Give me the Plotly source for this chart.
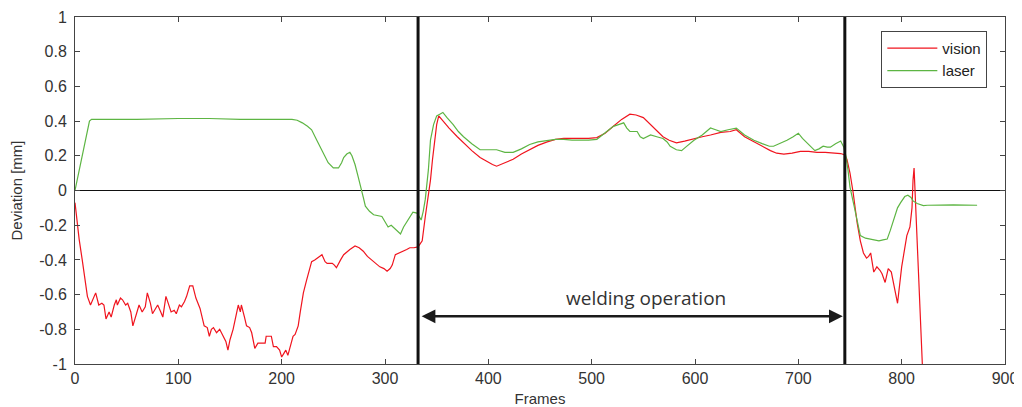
import plotly.graph_objects as go

# ---------------- data ----------------
vision_frames = [0, 2, 4, 7, 10, 12, 15, 18, 20, 23, 26, 28, 30, 33, 35, 38, 40, 41, 44, 46, 49, 51, 54, 56, 59,
                 62, 65, 68, 70, 73, 75, 78, 80, 83, 85, 88, 90, 93, 96, 98, 101, 103, 106, 108, 111, 114, 117,
                 121, 125, 128, 130, 132, 134, 137, 140, 143, 146, 148, 150, 153, 156, 158, 160, 161, 164, 166,
                 169, 171, 174, 177, 181, 184, 185, 188, 190, 192, 195, 198, 200, 202, 204, 206, 208, 211, 213,
                 216, 218, 221, 224, 226, 229, 232, 234, 237, 239, 242, 244, 247, 249, 251, 253, 257, 260, 266,
                 271, 275, 279, 283, 287, 291, 295, 299, 302, 305, 307, 310, 314, 318, 321, 324, 328, 332, 336,
                 339, 342, 344, 346, 348, 350, 352, 356, 362, 370, 376, 384, 392, 400, 404, 408, 412, 418, 424,
                 432, 440, 448, 457, 465, 473, 481, 489, 497, 505, 513, 521, 529, 537, 543, 550, 557, 563, 569,
                 575, 582, 590, 599, 607, 615, 625, 634, 640, 648, 657, 665, 673, 679, 686, 694, 702, 710, 718,
                 726, 734, 741, 745, 747, 750, 753, 757, 760, 763, 766, 768, 770, 773, 776, 779, 781, 784, 787,
                 790, 793, 796, 800, 803, 805, 808, 810, 811, 812, 820]
vision_values = [-0.07, -0.18, -0.28, -0.40, -0.52, -0.61, -0.66, -0.62, -0.59, -0.66, -0.65, -0.66, -0.74, -0.70,
                 -0.73, -0.66, -0.63, -0.66, -0.62, -0.63, -0.66, -0.65, -0.70, -0.78, -0.72, -0.66, -0.70, -0.67,
                 -0.59, -0.65, -0.71, -0.68, -0.66, -0.70, -0.73, -0.61, -0.65, -0.70, -0.69, -0.71, -0.66, -0.67,
                 -0.64, -0.61, -0.55, -0.55, -0.62, -0.68, -0.78, -0.79, -0.84, -0.80, -0.79, -0.82, -0.80, -0.84,
                 -0.87, -0.92, -0.86, -0.80, -0.72, -0.66, -0.70, -0.66, -0.73, -0.78, -0.79, -0.82, -0.91, -0.88,
                 -0.88, -0.88, -0.84, -0.84, -0.84, -0.90, -0.90, -0.92, -0.96, -0.94, -0.92, -0.95, -0.90, -0.84,
                 -0.83, -0.78, -0.70, -0.59, -0.52, -0.47, -0.41, -0.40, -0.39, -0.38, -0.37, -0.41, -0.42, -0.42,
                 -0.42, -0.43, -0.445, -0.40, -0.37, -0.34, -0.32, -0.33, -0.35, -0.38, -0.40, -0.42, -0.44, -0.45,
                 -0.465, -0.45, -0.43, -0.37, -0.36, -0.35, -0.34, -0.33, -0.33, -0.325, -0.29, -0.15, -0.02, 0.06,
                 0.18, 0.29, 0.38, 0.43, 0.40, 0.36, 0.31, 0.275, 0.23, 0.19, 0.16, 0.15, 0.14, 0.15, 0.165, 0.18,
                 0.21, 0.235, 0.26, 0.28, 0.295, 0.30, 0.30, 0.30, 0.30, 0.305, 0.33, 0.37, 0.41, 0.44, 0.435, 0.42,
                 0.38, 0.34, 0.31, 0.29, 0.275, 0.285, 0.30, 0.31, 0.32, 0.335, 0.34, 0.35, 0.31, 0.28, 0.255, 0.23,
                 0.215, 0.21, 0.215, 0.225, 0.225, 0.22, 0.22, 0.215, 0.213, 0.205, 0.18, 0.10, -0.01, -0.19, -0.29,
                 -0.36, -0.39, -0.38, -0.36, -0.47, -0.44, -0.46, -0.48, -0.53, -0.45, -0.47, -0.56, -0.65, -0.44,
                 -0.32, -0.26, -0.21, -0.10, 0.06, 0.13, -1.0]

laser_frames = [0, 5, 10, 14, 16, 30, 60, 100, 130, 160, 190, 210, 215, 220, 225, 229, 234, 240, 245, 250, 255,
                258, 260, 263, 266, 268, 271, 274, 276, 279, 281, 285, 289, 293, 297, 300, 303, 306, 308, 311,
                315, 318, 321, 324, 327, 331, 335, 337, 339, 342, 344, 347, 350, 353, 356, 360, 366, 371, 376,
                384, 392, 400, 408, 416, 424, 432, 440, 448, 457, 465, 473, 481, 489, 497, 505, 513, 521, 526,
                531, 534, 537, 544, 547, 550, 553, 557, 563, 569, 573, 576, 582, 587, 591, 599, 607, 615, 620,
                625, 632, 640, 648, 657, 665, 672, 676, 682, 689, 695, 700, 704, 708, 712, 716, 720, 724, 728,
                731, 736, 741, 744, 746, 748, 750, 754, 757, 760, 765, 770, 774, 778, 782, 786, 789, 792, 796,
                799, 803, 806, 809, 811, 815, 821, 825, 850, 873]
laser_values = [0.0, 0.14, 0.28, 0.40, 0.41, 0.41, 0.41, 0.415, 0.415, 0.41, 0.41, 0.41, 0.405, 0.39, 0.37, 0.35,
                0.29, 0.22, 0.16, 0.13, 0.13, 0.16, 0.19, 0.21, 0.22, 0.20, 0.15, 0.08, 0.025, -0.04, -0.09,
                -0.12, -0.14, -0.145, -0.15, -0.18, -0.21, -0.20, -0.21, -0.23, -0.25, -0.21, -0.18, -0.15,
                -0.125, -0.13, -0.17, -0.12, -0.05, 0.12, 0.29, 0.38, 0.43, 0.44, 0.45, 0.42, 0.38, 0.34, 0.31,
                0.27, 0.235, 0.235, 0.235, 0.22, 0.22, 0.24, 0.265, 0.28, 0.29, 0.295, 0.295, 0.29, 0.29, 0.29,
                0.295, 0.33, 0.37, 0.38, 0.39, 0.36, 0.34, 0.34, 0.31, 0.30, 0.31, 0.32, 0.31, 0.30, 0.28, 0.255,
                0.235, 0.23, 0.25, 0.29, 0.32, 0.36, 0.35, 0.34, 0.35, 0.36, 0.32, 0.29, 0.27, 0.255, 0.255, 0.27,
                0.29, 0.31, 0.33, 0.30, 0.275, 0.25, 0.23, 0.24, 0.255, 0.25, 0.25, 0.27, 0.285, 0.25, 0.20, 0.12,
                0.02, -0.09, -0.18, -0.26, -0.275, -0.28, -0.285, -0.29, -0.285, -0.28, -0.23, -0.17, -0.10,
                -0.07, -0.035, -0.027, -0.04, -0.06, -0.075, -0.087, -0.085, -0.083, -0.085]

weld_start = 332
weld_end = 745
arrow_level = -0.725
label_frame = 553
label_level = -0.617
label_text = "welding operation"

x_ticks = [0, 100, 200, 300, 400, 500, 600, 700, 800, 900]
x_ticktext = ["0", "100", "200", "300", "400", "500", "600", "700", "800", "900"]
y_ticks = [-1, -0.8, -0.6, -0.4, -0.2, 0, 0.2, 0.4, 0.6, 0.8, 1]
y_ticktext = ["-1", "-0.8", "-0.6", "-0.4", "-0.2", "0", "0.2", "0.4", "0.6", "0.8", "1"]

# ---------------- figure ----------------
fig = go.Figure()
fig.add_trace(go.Scatter(x=vision_frames, y=vision_values, mode="lines", name="vision",
                         line=dict(color="#f0141e", width=1.2)))
fig.add_trace(go.Scatter(x=laser_frames, y=laser_values, mode="lines", name="laser",
                         line=dict(color="#5db543", width=1.2)))

# zero line
fig.add_shape(type="line", xref="x", yref="y", x0=0, x1=900, y0=0, y1=0,
              line=dict(color="#111111", width=1), layer="below", showlegend=False)
# thick vertical markers
for xv in (weld_start, weld_end):
    fig.add_shape(type="line", xref="x", yref="paper", x0=xv, x1=xv, y0=0, y1=1,
                  line=dict(color="#111111", width=3), showlegend=False)

# double-headed arrow
fig.add_annotation(x=weld_end - 2, y=arrow_level, ax=weld_start + 2, ay=arrow_level,
                   xref="x", yref="y", axref="x", ayref="y", text="", showarrow=True,
                   arrowhead=2, startarrowhead=2, arrowside="end+start", arrowsize=1.1,
                   startarrowsize=1.1, arrowwidth=2.5, arrowcolor="#1a1a1a")
fig.add_annotation(x=label_frame, y=label_level, xref="x", yref="y", text=label_text,
                   showarrow=False, font=dict(family="Open Sans", size=19, color="#333333"))

axis_common = dict(showline=True, linecolor="#444444", linewidth=1, mirror="allticks",
                   ticks="inside", ticklen=5, tickcolor="#444444", showgrid=False, automargin=False,
                   tickfont=dict(family="Liberation Sans", size=16, color="#333333"))

fig.update_xaxes(range=[0, 900], tickvals=x_ticks, ticktext=x_ticktext, zeroline=False,
                 title=dict(text="Frames", font=dict(family="Liberation Sans", size=15, color="#333333"),
                            standoff=7),
                 **axis_common)
fig.update_yaxes(range=[-1, 1], tickvals=y_ticks, ticktext=y_ticktext, zeroline=False,
                 ticklabelstandoff=4,
                 title=dict(text="Deviation [mm]", font=dict(family="Liberation Sans", size=15, color="#333333"),
                            standoff=12),
                 **axis_common)

# page body has an 8px margin, so the figure is sized/offset to compensate
fig.update_layout(
    width=1014, height=399,
    margin=dict(l=67, r=17, t=9, b=43),
    plot_bgcolor="white", paper_bgcolor="white",
    showlegend=True,
    legend=dict(x=0.981, y=0.96, xanchor="right", yanchor="top",
                bordercolor="#444444", borderwidth=1, bgcolor="white",
                font=dict(family="Liberation Sans", size=15, color="#222222"),
                itemwidth=50, tracegroupgap=0),
)

fig.write_html("out.html")
